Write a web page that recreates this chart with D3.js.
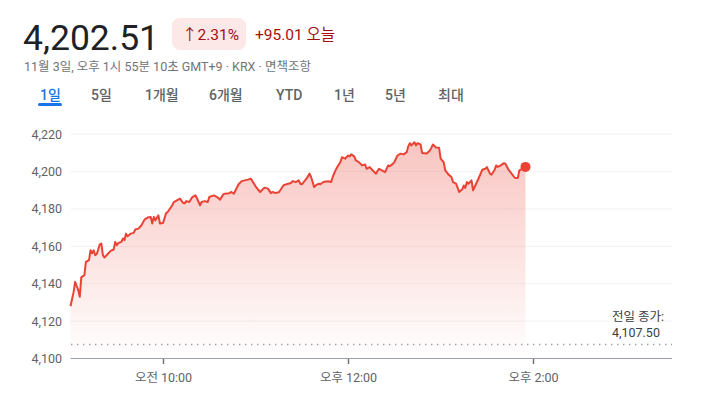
<!DOCTYPE html>
<html><head><meta charset="utf-8">
<script src="https://cdn.jsdelivr.net/npm/d3@7"></script>
<style>
html,body{margin:0;padding:0;background:#fff;}
svg{display:block;font-family:Roboto,"Noto Sans CJK KR",sans-serif;}
</style></head>
<body><svg id="c" width="705" height="397"></svg>
<script>
const times = ["09:00","09:02","09:03","09:05","09:06","09:07","09:09","09:10","09:12","09:13","09:14","09:15","09:16","09:17","09:19","09:20","09:21","09:22","09:24","09:26","09:28","09:29","09:30","09:31","09:33","09:34","09:35","09:36","09:37","09:39","09:41","09:42","09:44","09:46","09:48","09:50","09:52","09:53","09:54","09:55","09:57","09:58","10:00","10:02","10:03","10:06","10:07","10:09","10:11","10:13","10:14","10:15","10:17","10:19","10:21","10:22","10:24","10:25","10:27","10:29","10:30","10:33","10:35","10:37","10:39","10:40","10:43","10:44","10:46","10:47","10:49","10:51","10:53","10:55","10:57","10:59","11:00","11:02","11:03","11:05","11:06","11:08","11:10","11:11","11:13","11:15","11:16","11:18","11:20","11:23","11:24","11:26","11:28","11:29","11:30","11:33","11:35","11:36","11:38","11:39","11:41","11:42","11:44","11:47","11:49","11:50","11:52","11:53","11:55","11:56","11:58","12:00","12:01","12:02","12:04","12:05","12:07","12:09","12:11","12:12","12:14","12:16","12:17","12:18","12:20","12:21","12:24","12:26","12:27","12:29","12:30","12:32","12:34","12:36","12:38","12:39","12:40","12:41","12:43","12:44","12:45","12:47","12:48","12:51","12:53","12:54","12:55","12:57","12:59","13:00","13:02","13:03","13:04","13:05","13:07","13:08","13:10","13:12","13:14","13:15","13:16","13:17","13:18","13:20","13:21","13:23","13:25","13:27","13:29","13:30","13:32","13:33","13:35","13:36","13:37","13:39","13:41","13:42","13:44","13:46","13:48","13:50","13:51","13:53","13:55"];
const values = [4128.0,4135.5,4141.0,4136.6,4133.0,4143.4,4144.6,4151.7,4152.6,4157.9,4156.3,4157.9,4155.3,4155.8,4161.1,4161.5,4155.3,4154.0,4155.8,4157.6,4158.3,4162.4,4160.6,4161.8,4162.4,4164.2,4163.3,4166.8,4165.4,4166.8,4167.2,4169.0,4169.5,4171.3,4174.3,4175.4,4175.7,4172.2,4175.7,4173.9,4176.6,4172.2,4172.5,4177.8,4178.4,4182.0,4183.7,4184.6,4185.5,4183.2,4183.0,4184.2,4183.7,4186.4,4187.3,4185.7,4182.0,4183.7,4184.2,4183.7,4186.4,4187.3,4186.4,4185.0,4187.8,4188.2,4188.4,4189.1,4188.2,4190.0,4193.2,4194.9,4195.3,4195.7,4196.2,4193.5,4192.1,4190.0,4189.1,4190.9,4191.4,4190.9,4188.5,4189.1,4188.5,4188.9,4190.0,4192.6,4193.2,4193.9,4194.9,4194.4,4195.3,4193.5,4193.2,4196.2,4198.9,4197.1,4191.7,4192.6,4193.5,4193.2,4194.4,4194.8,4194.4,4197.1,4201.0,4202.4,4205.1,4207.7,4206.9,4208.6,4208.1,4209.2,4208.1,4206.0,4205.1,4203.3,4203.8,4201.5,4202.4,4200.6,4199.7,4198.9,4201.5,4201.0,4199.7,4203.3,4202.8,4204.2,4205.1,4208.6,4209.6,4209.2,4210.4,4213.5,4215.2,4214.0,4215.7,4214.0,4215.2,4214.5,4209.9,4209.7,4211.3,4212.8,4214.5,4212.9,4212.7,4206.9,4204.9,4200.6,4199.6,4198.5,4197.1,4194.4,4193.5,4189.1,4190.5,4192.6,4191.3,4194.4,4193.5,4195.3,4190.0,4193.5,4197.1,4201.0,4201.5,4202.4,4198.9,4198.3,4201.0,4203.3,4202.5,4203.3,4204.5,4204.2,4201.0,4198.9,4196.7,4196.6,4200.6,4201.5,4202.51];
const yTicks = [4100,4120,4140,4160,4180,4200,4220];
const xTickTimes = ["10:00","12:00","14:00"];
const xTickLabels = ["오전 10:00","오후 12:00","오후 2:00"];
const sessionStart = "09:00", sessionEnd = "15:30";
const prevClose = 4107.50;
const lastPrice = "4,202.51", changePct = "2.31%", changeAbs = "+95.01", todayLabel = "오늘";
const subtitle = "11월 3일, 오후 1시 55분 10초 GMT+9 · KRX · 면책조항";
const tabs = ["1일","5일","1개월","6개월","YTD","1년","5년","최대"];
const tabX = [40,91,145,209,276,334,385,438];
const prevCloseLabel = ["전일 종가:","4,107.50"];

const parse = d3.timeParse("%H:%M");
const data = times.map((t,i)=>({t:parse(t), v:values[i]}));

const svg = d3.select("#c");
const x = d3.scaleTime().domain([parse(sessionStart), parse(sessionEnd)]).range([70.5, 672]);
const y = d3.scaleLinear().domain([4100, 4220]).range([358.5, 134.2]);

// header
svg.append("text").attr("x",23).attr("y",50).attr("font-size",35.5).attr("fill","#202124").text(lastPrice);
svg.append("rect").attr("x",172).attr("y",18).attr("width",74).attr("height",32).attr("rx",8).attr("fill","#fce8e6");
svg.append("text").attr("x",182).attr("y",39.5).attr("font-size",15.5).attr("fill","#a50e0e").text("↑"+changePct);
svg.append("text").attr("x",255).attr("y",39.5).attr("font-size",15.5).attr("fill","#a50e0e").text(changeAbs+" "+todayLabel);
svg.append("text").attr("x",24).attr("y",71).attr("font-size",12.5).attr("fill","#70757a").text(subtitle);

tabs.forEach((t,i)=>{
  svg.append("text").attr("x",tabX[i]).attr("y",100).attr("font-size",14).attr("font-weight",500)
    .attr("fill", i===0 ? "#1a73e8" : "#5f6368").text(t);
});
svg.append("rect").attr("x",38).attr("y",103).attr("width",24).attr("height",3).attr("rx",1.5).attr("fill","#1a73e8");

// grid
const g = svg.append("g");
g.selectAll("line.grid").data(yTicks.filter(d=>d>4100)).join("line")
  .attr("x1",70.5).attr("x2",672).attr("y1",d=>y(d)).attr("y2",d=>y(d))
  .attr("stroke","#f1f3f4").attr("stroke-width",1);

// y labels
g.selectAll("text.yl").data(yTicks).join("text")
  .attr("x",62).attr("y",d=>y(d)+4.5).attr("text-anchor","end").attr("font-size",12.5).attr("fill","#5f6368")
  .text(d=>d3.format(",")(d));

// area gradient
const defs = svg.append("defs");
const grad = defs.append("linearGradient").attr("id","fillg").attr("x1",0).attr("x2",0).attr("y1",0).attr("y2",1)
  .attr("gradientUnits","userSpaceOnUse").attr("y1",y(4220)).attr("y2",y(4100));
grad.append("stop").attr("offset",0).attr("stop-color","#ea4335").attr("stop-opacity",0.32);
grad.append("stop").attr("offset",1).attr("stop-color","#ea4335").attr("stop-opacity",0.0);

const area = d3.area().x(d=>x(d.t)).y0(y(4100)).y1(d=>y(d.v));
svg.append("path").datum(data).attr("d",area).attr("fill","url(#fillg)");

// prev close dotted
svg.append("line").attr("x1",71).attr("x2",672).attr("y1",y(prevClose)).attr("y2",y(prevClose))
  .attr("stroke","#9aa0a6").attr("stroke-width",1.4).attr("stroke-dasharray","1.4,4.6");

// line
const line = d3.line().x(d=>x(d.t)).y(d=>y(d.v));
svg.append("path").datum(data).attr("d",line).attr("fill","none").attr("stroke","#ea4335")
  .attr("stroke-width",2).attr("stroke-linejoin","round");

const last = data[data.length-1];
svg.append("circle").attr("cx",x(last.t)).attr("cy",y(last.v)).attr("r",5).attr("fill","#ea4335");

// x axis
svg.append("line").attr("x1",70.5).attr("x2",672).attr("y1",358.5).attr("y2",358.5).attr("stroke","#9aa0a6").attr("stroke-width",1);
xTickTimes.forEach((t,i)=>{
  const px = Math.round(x(parse(t)))+0.5;
  svg.append("line").attr("x1",px).attr("x2",px).attr("y1",359).attr("y2",364).attr("stroke","#70757a").attr("stroke-width",1.5);
  svg.append("text").attr("x",px).attr("y",382).attr("text-anchor","middle").attr("font-size",12.5).attr("fill","#5f6368").text(xTickLabels[i]);
});

// prev close label
svg.append("text").attr("x",612).attr("y",321).attr("font-size",12.5).attr("fill","#3c4043").text(prevCloseLabel[0]);
svg.append("text").attr("x",612).attr("y",337).attr("font-size",12.5).attr("fill","#3c4043").text(prevCloseLabel[1]);
</script>
</body></html>
